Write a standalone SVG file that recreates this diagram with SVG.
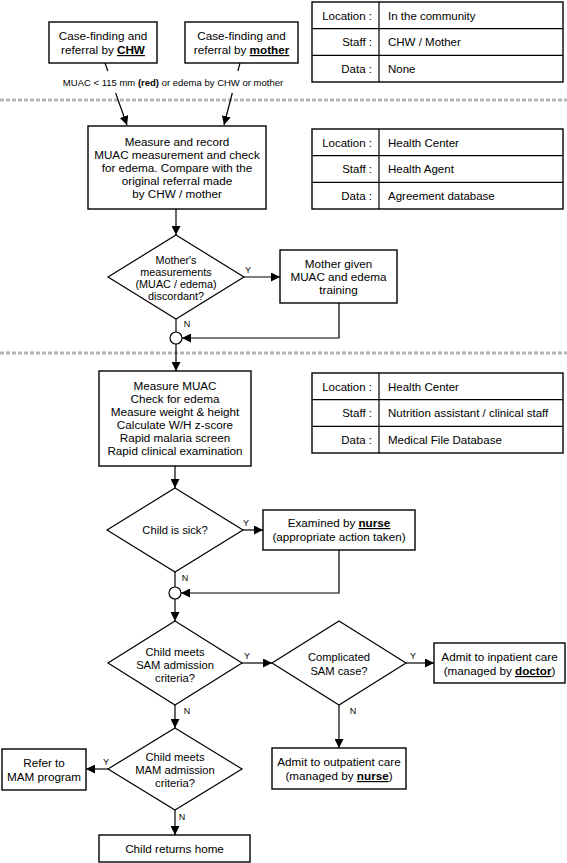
<svg xmlns="http://www.w3.org/2000/svg" width="567" height="863" viewBox="0 0 567 863">
<style>
text{font-family:"Liberation Sans",Arial,sans-serif;fill:#000}
.t{font-size:11.7px;text-anchor:middle}
.d{font-size:11.2px;text-anchor:middle}
.d1{font-size:10.8px;text-anchor:middle}
.tb{font-size:11.5px}
.r{text-anchor:end}
.lb{font-size:9px}
.u{font-weight:bold;text-decoration:underline}
.box{fill:#fff;stroke:#000;stroke-width:1.4}
.dia{fill:#fff;stroke:#000;stroke-width:1.2}
.ln{fill:none;stroke:#000;stroke-width:1.2}
.arr{fill:none;stroke:#000;stroke-width:1.2;marker-end:url(#ah)}
.sep{stroke:#b4b4b4;stroke-width:3;stroke-dasharray:4 2}
</style>
<defs>
<marker id="ah" viewBox="0 0 10 10" refX="10" refY="5" markerWidth="9" markerHeight="9" markerUnits="userSpaceOnUse" orient="auto"><path d="M0,0 L10,5 L0,10 z" fill="#000"/></marker>
</defs>
<rect width="567" height="863" fill="#fff"/>

<g id="separators">
<line class="sep" x1="0" y1="100" x2="567" y2="100"/>
<line class="sep" x1="0" y1="353" x2="567" y2="353"/>
</g>

<g id="connectors">
<line class="ln" x1="105" y1="63" x2="107.8" y2="71"/>
<line class="arr" x1="115.6" y1="93" x2="127" y2="125"/>
<line class="ln" x1="240" y1="63" x2="237.9" y2="71"/>
<line class="arr" x1="232.3" y1="93" x2="224" y2="125"/>
<line class="arr" x1="176" y1="209" x2="176" y2="235"/>
<line class="arr" x1="244" y1="277" x2="280" y2="277"/>
<line class="ln" x1="176" y1="319" x2="176" y2="332"/>
<polyline class="arr" points="339,303 339,338 182,338"/>
<line class="arr" x1="176" y1="344" x2="176" y2="371"/>
<line class="arr" x1="175" y1="466" x2="175" y2="488"/>
<line class="arr" x1="243" y1="530" x2="263" y2="530"/>
<line class="ln" x1="175" y1="572" x2="175" y2="587"/>
<polyline class="arr" points="339,550 339,593 181,593"/>
<line class="arr" x1="175" y1="599" x2="175" y2="621"/>
<line class="arr" x1="242" y1="663" x2="272" y2="663"/>
<line class="arr" x1="406" y1="663" x2="434" y2="663"/>
<line class="arr" x1="175" y1="705" x2="175" y2="728"/>
<line class="arr" x1="339" y1="705" x2="339" y2="748"/>
<line class="arr" x1="108" y1="769" x2="86" y2="769"/>
<line class="arr" x1="175" y1="810" x2="175" y2="835"/>
<text x="173" y="85.5" text-anchor="middle" font-size="9.5">MUAC &lt; 115 mm <tspan font-weight="bold">(red)</tspan> or edema by CHW or mother</text>
<text class="lb" x="248" y="273" text-anchor="middle">Y</text>
<text class="lb" x="187" y="327" text-anchor="middle">N</text>
<text class="lb" x="246" y="526" text-anchor="middle">Y</text>
<text class="lb" x="185" y="581" text-anchor="middle">N</text>
<text class="lb" x="247" y="659" text-anchor="middle">Y</text>
<text class="lb" x="413" y="659" text-anchor="middle">Y</text>
<text class="lb" x="187" y="714" text-anchor="middle">N</text>
<text class="lb" x="353" y="714" text-anchor="middle">N</text>
<text class="lb" x="106" y="765" text-anchor="middle">Y</text>
<text class="lb" x="182" y="820" text-anchor="middle">N</text>
</g>

<g id="chw">
<rect class="box" x="49" y="22" width="108" height="41"/>
<text class="t" x="103" y="40">Case-finding and</text>
<text class="t" x="103" y="54">referral by <tspan class="u">CHW</tspan></text>
</g>
<g id="mother">
<rect class="box" x="185" y="22" width="113" height="41"/>
<text class="t" x="241.5" y="40">Case-finding and</text>
<text class="t" x="241.5" y="54">referral by <tspan class="u">mother</tspan></text>
</g>

<g id="table1">
<rect class="box" x="312" y="2" width="251" height="80"/>
<line class="ln" x1="312" y1="28.7" x2="563" y2="28.7"/>
<line class="ln" x1="312" y1="55.3" x2="563" y2="55.3"/>
<line class="ln" x1="379" y1="2" x2="379" y2="82"/>
<text class="tb r" x="372" y="19.5">Location :</text>
<text class="tb r" x="372" y="46">Staff :</text>
<text class="tb r" x="372" y="72.5">Data :</text>
<text class="tb" x="388" y="19.5">In the community</text>
<text class="tb" x="388" y="46">CHW / Mother</text>
<text class="tb" x="388" y="72.5">None</text>
</g>

<g id="measure1">
<rect class="box" x="88" y="126" width="178" height="83"/>
<text class="t" x="177" y="146">Measure and record</text>
<text class="t" x="177" y="159">MUAC measurement and check</text>
<text class="t" x="177" y="172">for edema. Compare with the</text>
<text class="t" x="177" y="185">original referral made</text>
<text class="t" x="177" y="198">by CHW / mother</text>
</g>

<g id="table2">
<rect class="box" x="312" y="129" width="251" height="80"/>
<line class="ln" x1="312" y1="155.7" x2="563" y2="155.7"/>
<line class="ln" x1="312" y1="182.3" x2="563" y2="182.3"/>
<line class="ln" x1="379" y1="129" x2="379" y2="209"/>
<text class="tb r" x="372" y="146.5">Location :</text>
<text class="tb r" x="372" y="173">Staff :</text>
<text class="tb r" x="372" y="199.5">Data :</text>
<text class="tb" x="388" y="146.5">Health Center</text>
<text class="tb" x="388" y="173">Health Agent</text>
<text class="tb" x="388" y="199.5">Agreement database</text>
</g>

<g id="discordant">
<polygon class="dia" points="176,235 244,277 176,319 108,277"/>
<text class="d1" x="176" y="264">Mother's</text>
<text class="d1" x="176" y="276">measurements</text>
<text class="d1" x="176" y="288">(MUAC / edema)</text>
<text class="d1" x="176" y="300">discordant?</text>
</g>

<g id="training">
<rect class="box" x="280" y="250" width="117" height="53"/>
<text class="t" x="338.5" y="268">Mother given</text>
<text class="t" x="338.5" y="281">MUAC and edema</text>
<text class="t" x="338.5" y="294">training</text>
</g>

<g id="junction1"><circle cx="176" cy="338" r="6" fill="#fff" stroke="#000" stroke-width="1.2"/></g>

<g id="measure2">
<rect class="box" x="99" y="371" width="152" height="95"/>
<text class="t" x="175" y="390">Measure MUAC</text>
<text class="t" x="175" y="403">Check for edema</text>
<text class="t" x="175" y="416">Measure weight &amp; height</text>
<text class="t" x="175" y="429">Calculate W/H z-score</text>
<text class="t" x="175" y="442">Rapid malaria screen</text>
<text class="t" x="175" y="455">Rapid clinical examination</text>
</g>

<g id="table3">
<rect class="box" x="312" y="373" width="251" height="80"/>
<line class="ln" x1="312" y1="399.7" x2="563" y2="399.7"/>
<line class="ln" x1="312" y1="426.3" x2="563" y2="426.3"/>
<line class="ln" x1="379" y1="373" x2="379" y2="453"/>
<text class="tb r" x="372" y="390.5">Location :</text>
<text class="tb r" x="372" y="417">Staff :</text>
<text class="tb r" x="372" y="443.5">Data :</text>
<text class="tb" x="388" y="390.5">Health Center</text>
<text class="tb" x="388" y="417">Nutrition assistant / clinical staff</text>
<text class="tb" x="388" y="443.5">Medical File Database</text>
</g>

<g id="sick">
<polygon class="dia" points="175,488 243,530 175,572 107,530"/>
<text class="d" x="175" y="534">Child is sick?</text>
</g>

<g id="nurse-exam">
<rect class="box" x="263" y="510" width="152" height="40"/>
<text class="t" x="339" y="527">Examined by <tspan class="u">nurse</tspan></text>
<text class="t" x="339" y="541">(appropriate action taken)</text>
</g>

<g id="junction2"><circle cx="175" cy="593" r="6" fill="#fff" stroke="#000" stroke-width="1.2"/></g>

<g id="sam">
<polygon class="dia" points="175,621 242,663 175,705 108,663"/>
<text class="d" x="175" y="656">Child meets</text>
<text class="d" x="175" y="669">SAM admission</text>
<text class="d" x="175" y="682">criteria?</text>
</g>

<g id="complicated">
<polygon class="dia" points="339,621 406,663 339,705 272,663"/>
<text class="d" x="339" y="661">Complicated</text>
<text class="d" x="339" y="675">SAM case?</text>
</g>

<g id="inpatient">
<rect class="box" x="434" y="643" width="131" height="40"/>
<text class="t" x="499.5" y="661">Admit to inpatient care</text>
<text class="t" x="499.5" y="675">(managed by <tspan class="u">doctor</tspan>)</text>
</g>

<g id="outpatient">
<rect class="box" x="272" y="748" width="134" height="41"/>
<text class="t" x="339" y="766">Admit to outpatient care</text>
<text class="t" x="339" y="780">(managed by <tspan class="u">nurse</tspan>)</text>
</g>

<g id="mam">
<polygon class="dia" points="175,728 242,769 175,810 108,769"/>
<text class="d" x="175" y="761">Child meets</text>
<text class="d" x="175" y="774">MAM admission</text>
<text class="d" x="175" y="787">criteria?</text>
</g>

<g id="refer-mam">
<rect class="box" x="2" y="749" width="84" height="41"/>
<text class="t" x="44" y="767">Refer to</text>
<text class="t" x="44" y="781">MAM program</text>
</g>

<g id="home">
<rect class="box" x="99" y="835" width="151" height="27"/>
<text class="t" x="174.5" y="852.5">Child returns home</text>
</g>
</svg>
